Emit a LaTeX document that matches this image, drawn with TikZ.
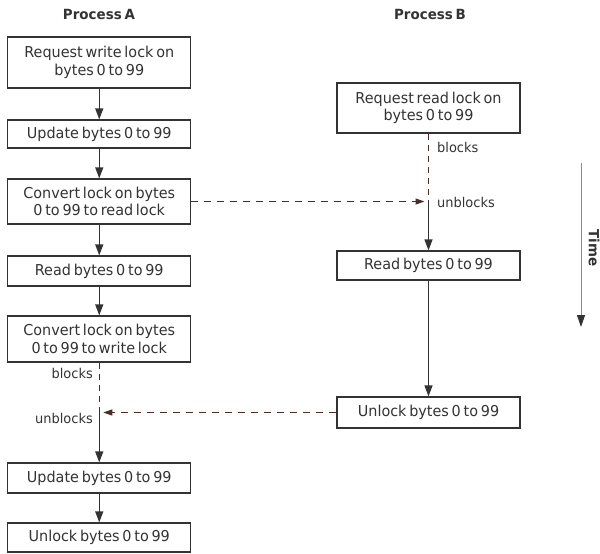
\documentclass[tikz,border=0pt]{standalone}
\usepackage{fontspec}
\setmainfont{DejaVu Sans}[FakeStretch=0.96, WordSpace=0.6]
\usetikzlibrary{arrows.meta}
\definecolor{ink}{HTML}{333333}
\definecolor{dashc}{HTML}{4A2C2C}
\definecolor{timec}{HTML}{8A8A8A}
\tikzset{
  box/.style={draw=ink, line width=1.2pt, text=ink, minimum width=183pt, inner sep=0pt, align=center, font=\fontsize{15}{17.7}\selectfont},
  title/.style={text=ink, font=\fontsize{14}{16}\selectfont\bfseries, inner sep=0pt},
  lbl/.style={text=ink, font=\fontsize{13.5}{16}\selectfont, inner sep=0pt},
  flow/.style={draw=ink, line width=1.2pt, -{Triangle[length=11pt,width=8pt]}},
  dashline/.style={draw=dashc, line width=1.1pt, dash pattern=on 6pt off 5pt},
  dasharrow/.style={draw=dashc, line width=1pt, dash pattern=on 7pt off 6pt, -{Triangle[length=9pt,width=6pt]}},
}
\begin{document}
\begin{tikzpicture}[x=1pt,y=-1pt]
\useasboundingbox (0,0) rectangle (600,554);
\node[title] (tA) at (99,14) {Process A};
\node[title] (tB) at (430,14) {Process B};

\node[box, minimum height=51pt] (A1) at (99.25,62.5) {Request write lock on\\bytes 0 to 99};
\node[box, minimum height=28pt] (A2) at (99.25,134) {Update bytes 0 to 99};
\node[box, minimum height=45pt] (A3) at (99.25,201.5) {Convert lock on bytes\\0 to 99 to read lock};
\node[box, minimum height=30pt] (A4) at (99.25,271) {Read bytes 0 to 99};
\node[box, minimum height=46pt] (A5) at (99.25,339) {Convert lock on bytes\\0 to 99 to write lock};
\node[box, minimum height=30pt] (A6) at (99.25,478) {Update bytes 0 to 99};
\node[box, minimum height=29pt] (A7) at (99.25,537.5) {Unlock bytes 0 to 99};

\node[box, minimum height=50pt] (B1) at (428.5,108) {Request read lock on\\bytes 0 to 99};
\node[box, minimum height=29pt] (B2) at (428.5,265.5) {Read bytes 0 to 99};
\node[box, minimum height=31pt] (B3) at (428.5,412.5) {Unlock bytes 0 to 99};

\draw[flow] (A1) -- (A2);
\draw[flow] (A2) -- (A3);
\draw[flow] (A3) -- (A4);
\draw[flow] (A4) -- (A5);
\draw[flow] (A6) -- (A7);

\coordinate (ubB) at (B1.south |- A3.east);
\coordinate (ubA) at (A5.south |- B3.west);

\draw[dashline] (B1.south) -- (ubB);
\draw[flow] (ubB) -- (B2.north);
\draw[flow] (B2) -- (B3);
\draw[dashline] (A5.south) -- (ubA);
\draw[flow] (ubA) -- (A6.north);

\draw[dasharrow, shorten >=4pt] (A3.east) -- (ubB);
\draw[dasharrow, shorten >=4pt] (B3.west) -- (ubA);

\node[lbl, anchor=west] (blB) at (437,147) {blocks};
\node[lbl, anchor=west] (ublB) at (437,202) {unblocks};
\node[lbl, anchor=east] (blA) at (93,373) {blocks};
\node[lbl, anchor=east] (ublA) at (93,418) {unblocks};

\coordinate (t1) at (581,163);
\coordinate (t2) at (581,327);
\draw[draw=timec, line width=1pt, -{Triangle[length=12pt,width=8pt,color=ink]}] (t1) -- (t2);
\node[title, rotate=-90] (time) at (594,248) {Time};
\end{tikzpicture}
\end{document}
